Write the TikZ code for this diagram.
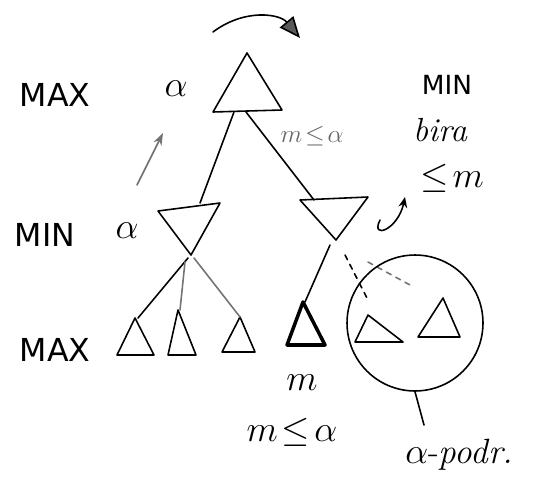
\documentclass[tikz,border=0pt]{standalone}
\usepackage{fontspec}
\setsansfont{DejaVu Sans}
\usetikzlibrary{arrows.meta}
\begin{document}
\begin{tikzpicture}[x=0.02cm,y=-0.02cm,
  ln/.style={line width=0.9pt, line join=round, line cap=round},
  gln/.style={line width=0.9pt, draw=black!55, line cap=round},
  lbl/.style={font=\sffamily\fontsize{18}{22}\selectfont, inner sep=0pt},
  mlbl/.style={font=\fontsize{22}{24}\selectfont, inner sep=0pt}]
\useasboundingbox (0,0) rectangle (543,476);
% top curved arrow
\coordinate (ta) at (213,32);
\coordinate (tb) at (300,38);
\draw[ln, -{Triangle[length=12pt,width=10pt,fill=black!65]}] (ta) .. controls (245,8) and (280,14) .. (tb);
% root
\coordinate (r1) at (247,53);
\coordinate (r2) at (282,110);
\coordinate (r3) at (213,112);
\draw[ln] (r1) -- (r2) -- (r3) -- cycle;
\node[lbl] (maxa) at (55,95) {MAX};
\node[mlbl] (alpha1) at (176,89) {$\alpha$};
\node[lbl, font=\sffamily\fontsize{15}{18}\selectfont] (minr) at (447,85) {MIN};
\node[mlbl, font=\fontsize{19}{22}\selectfont] (bira) at (440,130) {\itshape bira};
\node[mlbl, font=\fontsize{21}{24}\selectfont] (lem) at (452,178) {$\leq\!m$};
\node[mlbl, font=\fontsize{14}{16}\selectfont, text=black!60] (mla) at (312,136) {$m\!\leq\!\alpha$};
% small up arrow
\coordinate (sa1) at (137,185);
\coordinate (sa2) at (163,133);
\draw[gln, -{Stealth[length=7pt,width=5pt]}] (sa1) -- (sa2);
% left MIN
\coordinate (l1) at (158,211);
\coordinate (l2) at (220,203);
\coordinate (l3) at (191,255);
\draw[ln] (l1) -- (l2) -- (l3) -- cycle;
% right MIN
\coordinate (q1) at (300,200);
\coordinate (q2) at (368,197);
\coordinate (q3) at (336,240);
\draw[ln] (q1) -- (q2) -- (q3) -- cycle;
% edges root to MIN
\draw[ln] (234,112) -- (200,203);
\draw[ln] (246,112) -- (314,200);
\node[lbl] (mina) at (45,235) {MIN};
\node[mlbl] (alpha2) at (127,231) {$\alpha$};
% hook arrow
\coordinate (h1) at (380,220);
\coordinate (h2) at (405,197);
\draw[ln, -{Stealth[length=6pt,width=5pt]}] (h1) .. controls (370,240) and (398,230) .. (h2);
% leaves
\draw[ln] (135,318) -- (154,355) -- (117,355) -- cycle;
\draw[ln] (178,310) -- (196,355) -- (168,355) -- cycle;
\draw[ln] (240,317) -- (255,352) -- (222,352) -- cycle;
\draw[line width=2pt, line join=round] (303,302) -- (325,345) -- (287,345) -- cycle;
% edges left MIN to leaves
\draw[ln] (188,258) -- (138,318);
\draw[gln] (185,262) -- (180,310);
\draw[gln] (194,258) -- (240,317);
% right MIN to m
\draw[ln] (330,245) -- (305,302);
% dashed
\draw[ln, dashed] (345,255) -- (368,300);
\draw[ln, dashed, black!55] (368,262) -- (410,285);
% circle
\node[draw, circle, line width=0.9pt, minimum size=2.72cm, inner sep=0pt] (circ) at (415,323) {};
\draw[ln] (368,315) -- (403,342) -- (355,342) -- cycle;
\draw[ln] (443,298) -- (460,337) -- (418,337) -- cycle;
\node[lbl] (maxb) at (55,350) {MAX};
\node[mlbl] (mm) at (302,383) {$m$};
\node[mlbl, font=\fontsize{20}{22}\selectfont] (mla2) at (292,432) {$m\!\leq\!\alpha$};
\coordinate (pd) at (424,425);
\draw[ln] (circ.south) -- (pd);
\node[mlbl, font=\fontsize{20}{22}\selectfont, anchor=west] (podr) at (405,455) {$\alpha$-\itshape podr.};
\end{tikzpicture}
\end{document}
